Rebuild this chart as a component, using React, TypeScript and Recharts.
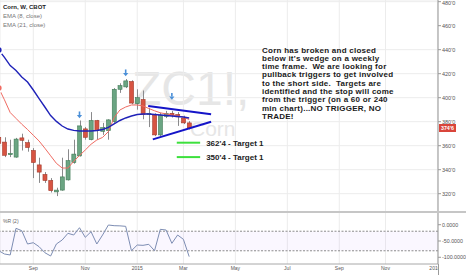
import React from "react";
import {
  ComposedChart,
  Bar,
  Line,
  XAxis,
  YAxis,
  CartesianGrid,
  ReferenceLine,
  ReferenceArea,
  Scatter,
} from "recharts";

// weekly bars, week 0 = first week of Sep 2014
const weeks = [-6, -5, -4, -3, -2, -1, 0, 1, 2, 3, 4, 5, 6, 7, 8, 9, 10, 11, 12, 13, 14, 15, 16, 17, 18, 19, 20, 21, 22, 23, 24, 25, 26, 27];
const opens = [367, 363, 352.5, 350.5, 366.5, 362.5, 356, 344, 336, 331, 321.5, 323, 331.5, 346, 351.5, 374, 365, 381, 372, 372.5, 380, 407, 409, 413.5, 395, 398.5, 386.5, 385.5, 369, 384.5, 387, 386, 383, 379];
const highs = [370, 367, 365, 366.5, 370, 365, 358, 350, 338, 333, 325, 350, 357, 365, 381, 375.5, 388, 381.5, 379, 382, 408, 412, 415.5, 414.5, 407, 406, 391.5, 387, 387.5, 389, 389, 388, 385, 380.5];
const lows = [360, 350.5, 350.5, 350, 356, 355, 333, 329, 329, 321, 318, 322.5, 331, 345, 351, 365, 364.5, 365, 369, 365, 379, 404, 408, 394.5, 390, 382, 375.5, 368, 368, 383, 383.5, 376.5, 378, 373.5];
const closes = [362, 352, 353.5, 365.5, 364.5, 358.5, 346, 338, 331, 322.5, 323, 334, 347.5, 353, 376.5, 367, 381, 372.5, 375, 381.5, 407, 410, 414, 395.5, 400, 386, 387, 369, 385.5, 387, 385.5, 384, 379, 374.75];
const ema8 = [408.1, 398.25, 387.6, 382.75, 377.9, 373.5, 368.7, 363.9, 357.9, 351.6, 345.3, 341.4, 341.4, 347, 351.8, 356.4, 361.2, 364.75, 366.9, 371.7, 383.4, 389.75, 392.25, 393.9, 393.9, 393.1, 391, 389.1, 387.4, 386.5, 385.6, 384.75, 383.9, 381.8];
const ema21 = [439.75, 433.6, 426.75, 422.7, 417.25, 413.1, 406.4, 399.25, 392.25, 385.1, 380.25, 376.4, 373.9, 372.8, 372.25, 372.25, 372.25, 372.7, 373.5, 375.2, 378.1, 381, 383.1, 384.75, 386, 386.4, 386.4, 386, 385.6, 385.2, 384.75, 384.3, 383.9, 383.1];
const willR = [-79.8, -89.9, -92.9, -11.1, -18.4, -59.2, -55.2, -67.5, -85.9, -96, -59.2, -46.9, -26.4, -31.6, -9.2, -38.7, -21.5, -59.2, -31.6, -0.9, -3, -3.5, -5, -79.8, -62.3, -63.3, -60.2, -79.8, -14.2, -16.3, -57.2, -31.6, -44.9, -98];

const monthTicks = [0, 9, 18, 26, 35, 44, 53, 61, 70];
const monthLabels = ["Sep", "Nov", "2015", "Mar", "May", "Jul", "Sep", "Nov", "2016"];
const priceTicks = [320, 340, 360, 380, 400, 420, 440, 460, 480];
const willTicks = [0, -50, -100];

const signalWeeks = [8, 16, 24];
const signalLevels = [385.6, 420.6, 401];

const wedgeUpper = [{ x: 19.9, y: 393.1 }, { x: 30.8, y: 386.2 }];
const wedgeLower = [{ x: 20.7, y: 365.3 }, { x: 30.8, y: 380 }];
const targets = [362.5, 350.5];
const targetFrom = 24.85;
const targetTo = 28.9;

const note = [
  "Corn has broken and closed",
  "below it's wedge on a weekly",
  "time frame.  We are looking for",
  "pullback triggers to get involved",
  "to the short side.  Targets are",
  "identified and the stop will come",
  "from the trigger (on a 60 or 240",
  "min chart)...NO TRIGGER, NO",
  "TRADE!",
];

const rows = weeks.map((w, k) => ({
  w,
  o: opens[k],
  h: highs[k],
  l: lows[k],
  c: closes[k],
  ema8: ema8[k],
  ema21: ema21[k],
  wr: willR[k],
}));
const signals = signalWeeks.map((w, k) => ({ w, p: signalLevels[k] }));

const xDomain = [-5.77, 70.1];
const font = "'Liberation Sans', Arial, sans-serif";

const fmtPrice = (v: number) => `${Math.floor(v)}'${Math.round((v - Math.floor(v)) * 8)}`;
const lastClose = closes[closes.length - 1];

const Candle = (props: any) => {
  const { x, y, width, height, payload } = props;
  const top = Math.min(y, y + height);
  const span = Math.abs(height);
  const ppu = span / (payload.h - payload.l || 1);
  const yOf = (v: number) => top + (payload.h - v) * ppu;
  const up = payload.c >= payload.o;
  const bodyTop = yOf(Math.max(payload.o, payload.c));
  const bodyH = Math.max(1, Math.abs(yOf(payload.o) - yOf(payload.c)));
  const cx = Math.round(x + width / 2) + 0.5;
  return (
    <g>
      <line x1={cx} x2={cx} y1={top} y2={top + span} stroke="#8a8a8c" strokeWidth={1} />
      <rect
        x={x}
        y={bodyTop}
        width={width}
        height={bodyH}
        fill={up ? "#6ba583" : "#d75442"}
        stroke={up ? "#3f7a55" : "#a33a2a"}
        strokeWidth={0.6}
      />
    </g>
  );
};

const Arrow = (props: any) => {
  const { cx, cy } = props;
  return (
    <g fill="#4a8fd8">
      <rect x={cx - 0.8} y={cy - 3.5} width={1.6} height={3.5} />
      <path d={`M${cx - 2.6},${cy} L${cx + 2.6},${cy} L${cx},${cy + 3.2} Z`} />
    </g>
  );
};

const PriceTag = (props: any) => {
  const { viewBox } = props;
  const x = viewBox.x + viewBox.width + 1;
  const y = viewBox.y;
  return (
    <g>
      <rect x={x} y={y - 4} width={17} height={8} fill="#d9453b" />
      <text x={x + 8.5} y={y + 2} textAnchor="middle" fontSize={5.3} fill="#fff" fontFamily={font} fontWeight={700}>
        {fmtPrice(lastClose)}
      </text>
    </g>
  );
};

const MonthTick = (props: any) => {
  const { x, y, payload, index } = props;
  const last = payload.value === monthTicks[monthTicks.length - 1];
  return (
    <g>
      <defs>
        <clipPath id={`mt${index}`}>
          <rect x={-10} y={0} width={448} height={300} />
        </clipPath>
      </defs>
      <text
        x={last ? x - 2.5 : x}
        y={y + 5}
        textAnchor="middle"
        fontSize={5}
        fill="#555"
        fontFamily={font}
        clipPath={`url(#mt${index})`}
      >
        {monthLabels[monthTicks.indexOf(payload.value)]}
      </text>
    </g>
  );
};

export default function App() {
  return (
    <div style={{ position: "absolute", left: 0, top: 0, width: 466, height: 275, background: "#fff", overflow: "hidden", fontFamily: font }}>
      {/* watermark */}
      <div style={{ position: "absolute", left: 132, top: 65, fontSize: 48, lineHeight: "48px", color: "#e6e6e6", whiteSpace: "pre" }}>
        ZC1!,
      </div>
      <div style={{ position: "absolute", left: 190, top: 118, fontSize: 21, lineHeight: "21px", color: "#e6e6e6" }}>
        Corn
      </div>

      <div style={{ position: "absolute", left: 0, top: 0 }}>
        <ComposedChart width={466} height={212} data={rows} margin={{ top: 0, right: 0, bottom: 0, left: 0 }}>
          <CartesianGrid stroke="#ececec" />
          <XAxis type="number" dataKey="w" domain={xDomain} allowDataOverflow ticks={monthTicks} hide />
          <YAxis
            orientation="right"
            width={28}
            type="number"
            domain={[304.75, 481.4]}
            allowDataOverflow
            ticks={priceTicks}
            tickFormatter={fmtPrice}
            tick={{ fontSize: 5.5, fill: "#555", fontFamily: font }}
            tickSize={3}
            tickMargin={1}
            axisLine={{ stroke: "#9a9a9a" }}
            tickLine={{ stroke: "#9a9a9a" }}
          />
          <Bar dataKey={(d: any) => [d.l, d.h]} barSize={4} shape={<Candle />} isAnimationActive={false} />
          <Line dataKey="ema8" type="linear" stroke="#ef6b62" strokeWidth={1} dot={false} isAnimationActive={false} />
          <Line dataKey="ema21" type="linear" stroke="#1f22b8" strokeWidth={1.4} dot={false} isAnimationActive={false} />
          <ReferenceLine segment={wedgeUpper} stroke="#1414c8" strokeWidth={2} ifOverflow="visible" />
          <ReferenceLine segment={wedgeLower} stroke="#1414c8" strokeWidth={2} ifOverflow="visible" />
          {targets.map((t) => (
            <ReferenceLine
              key={t}
              segment={[{ x: targetFrom, y: t }, { x: targetTo, y: t }]}
              stroke="#3ce03c"
              strokeWidth={2}
              ifOverflow="visible"
              label={{ value: `${fmtPrice(t)} - Target 1`, position: "right", offset: 6, fontSize: 8, fontWeight: 700, fill: "#222", fontFamily: font }}
            />
          ))}
          <Scatter data={signals} dataKey="p" shape={<Arrow />} isAnimationActive={false} />
          <ReferenceLine y={lastClose} stroke="none" label={<PriceTag />} />
        </ComposedChart>
      </div>

      <div style={{ position: "absolute", left: 0, top: 212 }}>
        <ComposedChart width={466} height={63} data={rows} margin={{ top: 0, right: 0, bottom: 0, left: 0 }}>
          <CartesianGrid stroke="#ececec" horizontal={false} />
          <ReferenceArea y1={-80} y2={-20} fill="#9a5cff" fillOpacity={0.05} stroke="none" />
          <ReferenceLine y={-20} stroke="#8c8c8c" strokeDasharray="2 1.5" />
          <ReferenceLine y={-80} stroke="#8c8c8c" strokeDasharray="2 1.5" />
          <XAxis
            type="number"
            dataKey="w"
            domain={xDomain}
            allowDataOverflow
            ticks={monthTicks}
            height={11}
            tickLine={false}
            tickSize={1}
            tickMargin={0}
            axisLine={{ stroke: "#a8a8a8" }}
            tick={<MonthTick />}
            interval={0}
          />
          <YAxis
            orientation="right"
            width={28}
            type="number"
            domain={[-120.6, 39]}
            allowDataOverflow
            ticks={willTicks}
            tickFormatter={(v: number) => v.toFixed(4)}
            tick={{ fontSize: 5.3, fill: "#555", fontFamily: font }}
            tickSize={3}
            tickMargin={1}
            axisLine={{ stroke: "#9a9a9a" }}
            tickLine={{ stroke: "#9a9a9a" }}
          />
          <Line dataKey="wr" type="linear" stroke="#7d8db3" strokeWidth={1} dot={false} isAnimationActive={false} />
        </ComposedChart>
      </div>

      {/* pane separator and axis continuation */}
      <div style={{ position: "absolute", left: 0, top: 211, width: 466, height: 2, background: "#c6c6c6" }} />
      <div style={{ position: "absolute", left: 438, top: 264, width: 1, height: 11, background: "#9a9a9a" }} />

      {/* legends */}
      <div style={{ position: "absolute", left: 3, top: 3, fontSize: 6, lineHeight: "8.8px", color: "#777", whiteSpace: "pre" }}>
        <div style={{ color: "#222", fontWeight: 700 }}>Corn, W, CBOT</div>
        <div>EMA (8, close)</div>
        <div>EMA (21, close)</div>
      </div>
      <div style={{ position: "absolute", left: 3, top: 218, fontSize: 5, color: "#666" }}>%R (2)</div>

      {/* note */}
      <div style={{ position: "absolute", left: 262, top: 46.5, fontSize: 8, lineHeight: "8.3px", letterSpacing: 0.25, fontWeight: 700, color: "#1a1a1a", whiteSpace: "pre" }}>
        {note.map((s, k) => (
          <div key={k}>{s}</div>
        ))}
      </div>
    </div>
  );
}
